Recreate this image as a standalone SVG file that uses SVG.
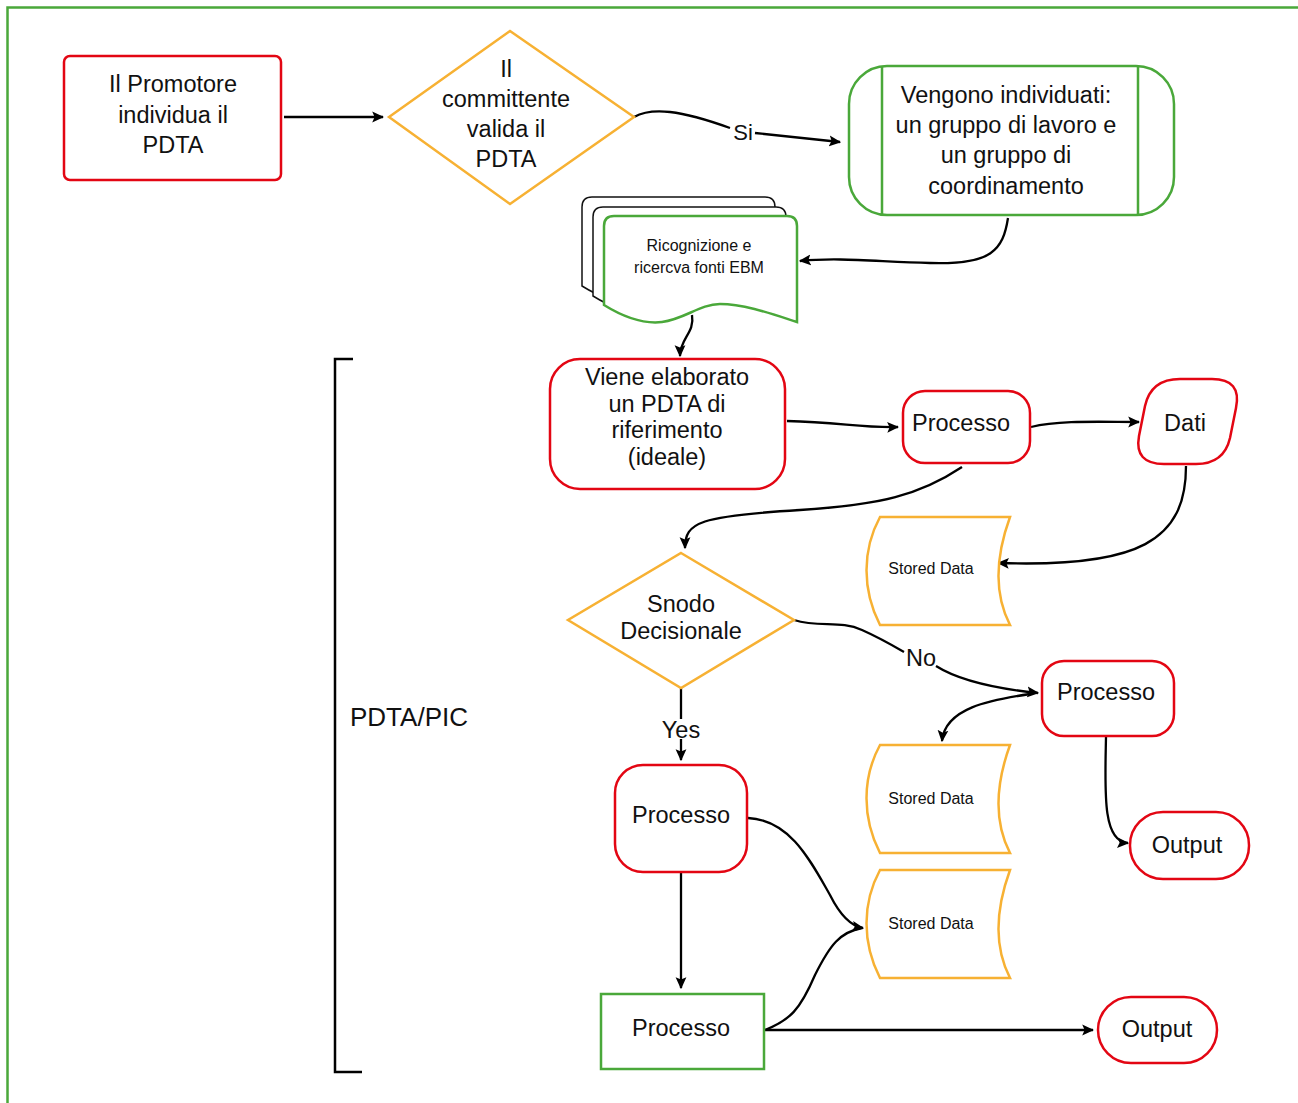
<svg xmlns="http://www.w3.org/2000/svg" width="1298" height="1103" viewBox="0 0 1298 1103">
<style>
.t{font-family:"Liberation Sans",Arial,sans-serif;font-size:23.5px;fill:#111;text-anchor:middle}
.s{font-size:16px}
.red{fill:#fff;stroke:#e30613;stroke-width:2.5}
.org{fill:#fff;stroke:#f7b133;stroke-width:2.5}
.grn{fill:#fff;stroke:#4aa83a;stroke-width:2.5}
.blk{fill:#fff;stroke:#111;stroke-width:1.5}
.c{fill:none;stroke:#000;stroke-width:2.3}
.ca{fill:none;stroke:#000;stroke-width:2.3;marker-end:url(#ah)}
</style>
<defs>
<marker id="ah" viewBox="0 0 10 10" refX="9" refY="5" markerWidth="12" markerHeight="12" markerUnits="userSpaceOnUse" orient="auto">
<path d="M0,0.5 L10,5 L0,9.5 L2,5 Z" fill="#000"/>
</marker>
<path id="sd" d="M14,0 L144,0 C132,33 126,73 144,108 L14,108 C-4,73 -4,33 14,0 Z"/>
<path id="doc" d="M10,0 L183,0 Q193,0 193,10 L193,106 C171,99 141,88 116,88 C96,88 81,103 58,106 C41,108 21,102 0,89 L0,10 Q0,0 10,0 Z"/>
</defs>
<rect x="7.5" y="7.5" width="1400" height="1200" fill="none" stroke="#4aa83a" stroke-width="2.5"/>

<g id="connectors">
<path class="ca" d="M284,117 L383,117"/>
<path class="c" d="M634,117 C652,107 680,110 730,128"/>
<path class="ca" d="M755,133 L840,142"/>
<path class="ca" d="M1008,218 C1003,250 992,265 930,263 C880,262 840,257 800,261"/>
<path class="ca" d="M692,315 C695,333 680,338 680,356"/>
<path class="ca" d="M787,421 C840,422 860,428 898,427"/>
<path class="ca" d="M1031,427 C1060,420 1100,422 1139,422"/>
<path class="ca" d="M962,467 C920,495 880,505 800,510 C700,516 685,522 685,548"/>
<path class="ca" d="M1186,466 C1186,540 1140,568 998,563"/>
<path class="c" d="M794,620 C820,628 840,620 862,630 C880,638 892,645 904,652"/>
<path class="ca" d="M936,666 C955,678 990,688 1038,693"/>
<path class="ca" d="M1030,694 C990,700 945,708 942,741"/>
<path class="c" d="M681,688 L681,719"/>
<path class="ca" d="M681,739 L681,760"/>
<path class="ca" d="M1106,737 C1105,790 1102,842 1128,843"/>
<path class="ca" d="M748,818 C790,820 810,860 830,895 C840,915 850,926 863,928"/>
<path class="ca" d="M681,873 L681,988"/>
<path class="c" d="M765,1030 C790,1020 800,1010 815,975 C830,945 840,932 862,928"/>
<path class="ca" d="M765,1030 L1093,1030"/>
<text class="t" x="743" y="140" style="font-size:22px">Si</text>
<text class="t" x="921" y="666">No</text>
<text class="t" x="681" y="738">Yes</text>
</g>

<g id="n-promotore">
<rect class="red" x="64" y="56" width="217" height="124" rx="6"/>
<text class="t" x="173" y="92">Il Promotore</text>
<text class="t" x="173" y="123">individua il</text>
<text class="t" x="173" y="153">PDTA</text>
</g>

<g id="n-committente">
<path class="org" d="M510,31 L634,117 L510,204 L389,117 Z"/>
<text class="t" x="506" y="77">Il</text>
<text class="t" x="506" y="107">committente</text>
<text class="t" x="506" y="137">valida il</text>
<text class="t" x="506" y="167">PDTA</text>
</g>

<g id="n-vengono">
<rect class="grn" x="849" y="66" width="325" height="149" rx="38"/>
<path d="M882,66 L882,215 M1138,66 L1138,215" stroke="#4aa83a" stroke-width="2.5"/>
<text class="t" x="1006" y="103">Vengono individuati:</text>
<text class="t" x="1006" y="133">un gruppo di lavoro e</text>
<text class="t" x="1006" y="163">un gruppo di</text>
<text class="t" x="1006" y="194">coordinamento</text>
</g>

<g id="n-ricognizione">
<use href="#doc" class="blk" transform="translate(582,197)"/>
<use href="#doc" class="blk" transform="translate(593,207)"/>
<use href="#doc" class="grn" transform="translate(604,216)"/>
<text class="t s" x="699" y="251">Ricognizione e</text>
<text class="t s" x="699" y="273">ricercva fonti EBM</text>
</g>

<g id="n-viene">
<rect class="red" x="550" y="359" width="235" height="130" rx="30"/>
<text class="t" x="667" y="385">Viene elaborato</text>
<text class="t" x="667" y="412">un PDTA di</text>
<text class="t" x="667" y="438">riferimento</text>
<text class="t" x="667" y="465">(ideale)</text>
</g>

<g id="n-processo1">
<rect class="red" x="903" y="391" width="127" height="72" rx="22"/>
<text class="t" x="961" y="431">Processo</text>
</g>

<g id="n-dati">
<path class="red" d="M1180,379 L1212,379 Q1242,379 1236,408 L1230,438 Q1224,464 1196,464 L1164,464 Q1134,464 1139,436 L1145,406 Q1151,379 1180,379 Z"/>
<text class="t" x="1185" y="431">Dati</text>
</g>

<g id="n-stored1">
<use href="#sd" class="org" transform="translate(866,517)"/>
<text class="t s" x="931" y="574">Stored Data</text>
</g>

<g id="n-snodo">
<path class="org" d="M681,553 L794,620 L681,688 L568,620 Z"/>
<text class="t" x="681" y="612">Snodo</text>
<text class="t" x="681" y="639">Decisionale</text>
</g>

<g id="n-processo-dx">
<rect class="red" x="1042" y="661" width="132" height="75" rx="22"/>
<text class="t" x="1106" y="700">Processo</text>
</g>

<g id="n-stored2">
<use href="#sd" class="org" transform="translate(866,745)"/>
<text class="t s" x="931" y="804">Stored Data</text>
</g>

<g id="n-output1">
<rect class="red" x="1130" y="812" width="119" height="67" rx="33"/>
<text class="t" x="1187" y="853">Output</text>
</g>

<g id="n-processo2">
<rect class="red" x="615" y="765" width="132" height="107" rx="28"/>
<text class="t" x="681" y="823">Processo</text>
</g>

<g id="n-stored3">
<use href="#sd" class="org" transform="translate(866,870)"/>
<text class="t s" x="931" y="929">Stored Data</text>
</g>

<g id="n-processo3">
<rect class="grn" x="601" y="994" width="163" height="75"/>
<text class="t" x="681" y="1036">Processo</text>
</g>

<g id="n-output2">
<rect class="red" x="1098" y="997" width="119" height="66" rx="33"/>
<text class="t" x="1157" y="1037">Output</text>
</g>

<g id="n-bracket">
<path d="M353,359 L335,359 L335,1072 L362,1072" fill="none" stroke="#000" stroke-width="2.5"/>
<text x="350" y="726" style="font-family:'Liberation Sans',Arial,sans-serif;font-size:26px;fill:#111">PDTA/PIC</text>
</g>
</svg>
